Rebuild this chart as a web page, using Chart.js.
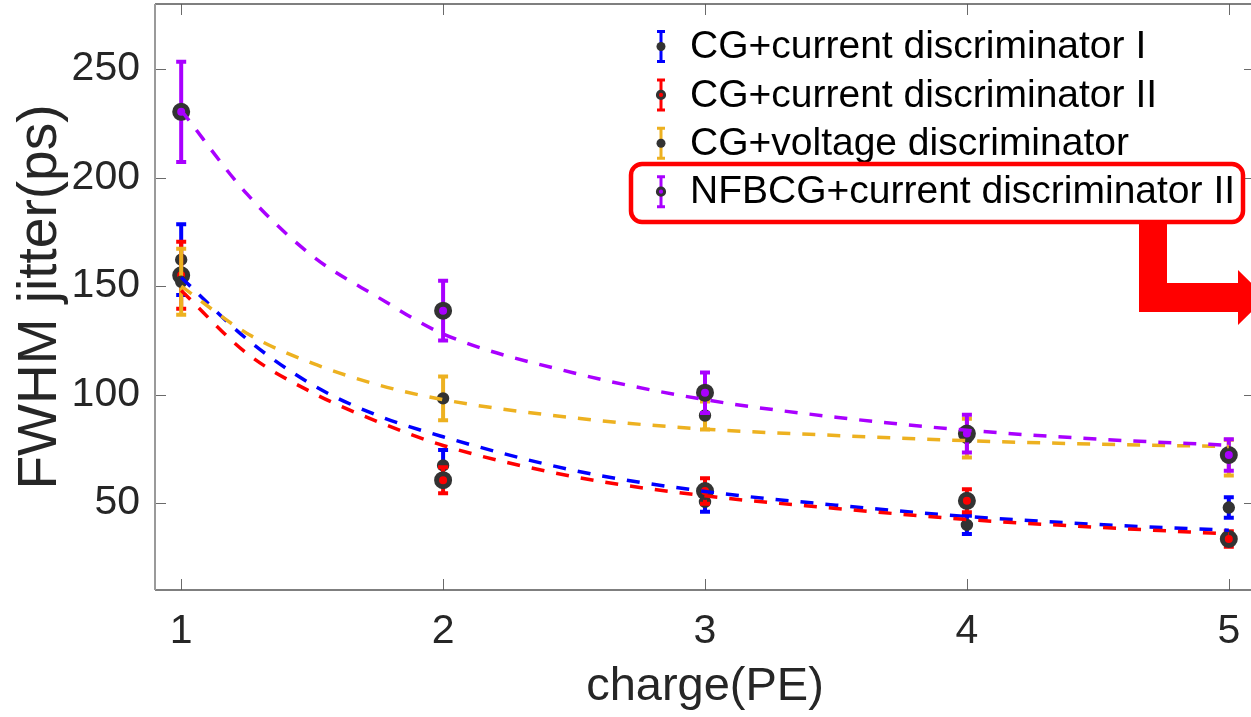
<!DOCTYPE html>
<html>
<head>
<meta charset="utf-8">
<script src="https://cdn.jsdelivr.net/npm/chart.js@4"></script>
<style>
  html, body { margin: 0; padding: 0; background: #ffffff; overflow: hidden; width: 1251px; height: 717px; }
  #wrap { position: absolute; left: 0; top: 0; width: 1270px; height: 717px; }
</style>
</head>
<body>
<div id="wrap"><canvas id="c" width="1270" height="717"></canvas></div>
<script>
// ---------------- data ----------------
const charges = [1, 2, 3, 4, 5];
const seriesNames = [
  'CG+current discriminator I',
  'CG+current discriminator II',
  'CG+voltage discriminator',
  'NFBCG+current discriminator II'
];
const currentIJitter   = [162.2, 67.4, 50.6, 40.0, 48.0];
const currentIErr      = [16.3, 7.1, 4.6, 4.2, 4.7];
const currentIIJitter  = [155.0, 60.6, 55.6, 51.1, 33.5];
const currentIIErr     = [15.4, 6.0, 5.9, 5.3, 3.6];
const voltageJitter    = [152.0, 98.3, 90.4, 80.0, 71.0];
const voltageErr       = [15.2, 10.1, 6.4, 8.9, 8.2];
const nfbcgJitter      = [230.3, 138.7, 100.9, 82.1, 72.2];
const nfbcgErr         = [23.1, 13.8, 9.3, 8.7, 7.3];

// fitted curves
const fitCharges    = [1, 1.25, 1.5, 1.75, 2, 2.5, 3, 3.5, 4, 4.5, 5];
const currentIFit   = [154, 125.7, 104.6, 90.4, 80.6, 65.1, 55.4, 49.1, 43.9, 40.2, 37.5];
const currentIIFit  = [148, 119.1, 101.0, 87.6, 76.6, 62.2, 53.4, 47.6, 42.5, 38.9, 35.8];
const voltageFit    = [150, 128.3, 114.5, 104.6, 97.7, 89.3, 84.1, 81.2, 78.8, 77.2, 76.1];
const nfbcgFit      = [231, 192.6, 164.0, 145.0, 128.0, 110.0, 97.7, 89.6, 83.6, 79.5, 76.7];

const xTickValues = [1, 2, 3, 4, 5];
const yTickValues = [50, 100, 150, 200, 250];
const xTitle = 'charge(PE)';
const yTitle = 'FWHM jitter(ps)';

// ---------------- style ----------------
const colors = ['#0000FF', '#FF0000', '#EDB120', '#A900FF'];
const markerDark = '#333333';
const FONT = '"Liberation Sans", Arial, Helvetica, sans-serif';

const toPts = (xs, ys) => xs.map((x, i) => ({ x: x, y: ys[i] }));

function markerSet(idx, ys, errs, ring, order) {
  return {
    label: seriesNames[idx],
    data: toPts(charges, ys),
    errors: errs,
    errColor: colors[idx],
    ring: ring,
    showLine: false,
    pointRadius: ring ? 6.5 : 5.2,
    pointBorderWidth: ring ? 5 : 2,
    pointBackgroundColor: ring ? colors[idx] : markerDark,
    pointBorderColor: markerDark,
    order: order
  };
}
function fitSet(idx, ys, order) {
  return {
    label: seriesNames[idx] + ' fit',
    data: toPts(fitCharges, ys),
    showLine: true,
    pointRadius: 0,
    borderColor: colors[idx],
    borderWidth: 3.5,
    borderDash: [13, 12],
    cubicInterpolationMode: 'monotone',
    fill: false,
    order: order
  };
}

const datasets = [
  markerSet(0, currentIJitter, currentIErr, false, 8),
  markerSet(1, currentIIJitter, currentIIErr, true, 7),
  markerSet(2, voltageJitter, voltageErr, false, 6),
  markerSet(3, nfbcgJitter, nfbcgErr, true, 5),
  fitSet(0, currentIFit, 4),
  fitSet(1, currentIIFit, 3),
  fitSet(2, voltageFit, 2),
  fitSet(3, nfbcgFit, 1)
];

// error bars drawn just before each marker dataset
const errorBarPlugin = {
  id: 'errorBars',
  beforeDatasetDraw(chart, args) {
    const ds = chart.data.datasets[args.index];
    if (!ds.errors) return;
    const xs = chart.scales.x, ys = chart.scales.y;
    const ctx = chart.ctx;
    ctx.save();
    ctx.strokeStyle = ds.errColor;
    ctx.lineWidth = 4;
    ctx.lineCap = 'butt';
    ds.data.forEach((p, i) => {
      const px = xs.getPixelForValue(p.x);
      const top = ys.getPixelForValue(p.y + ds.errors[i]);
      const bot = ys.getPixelForValue(p.y - ds.errors[i]);
      ctx.beginPath();
      ctx.moveTo(px, top); ctx.lineTo(px, bot);
      ctx.moveTo(px - 5, top); ctx.lineTo(px + 5, top);
      ctx.moveTo(px - 5, bot); ctx.lineTo(px + 5, bot);
      ctx.stroke();
    });
    ctx.restore();
  }
};

// axes box with inward ticks
const framePlugin = {
  id: 'frame',
  beforeDatasetsDraw(chart) {
    const { ctx, chartArea: a } = chart;
    const xs = chart.scales.x, ys = chart.scales.y;
    const tl = 11;
    ctx.save();
    ctx.strokeStyle = '#6a6a6a';
    ctx.lineWidth = 1;
    ctx.beginPath();
    xTickValues.forEach(v => {
      const px = Math.round(xs.getPixelForValue(v)) + 0.5;
      ctx.moveTo(px, a.bottom); ctx.lineTo(px, a.bottom - tl);
      ctx.moveTo(px, a.top); ctx.lineTo(px, a.top + tl);
    });
    yTickValues.forEach(v => {
      const py = Math.round(ys.getPixelForValue(v)) + 0.5;
      ctx.moveTo(a.left, py); ctx.lineTo(a.left + tl, py);
      ctx.moveTo(a.right, py); ctx.lineTo(a.right - tl, py);
    });
    ctx.stroke();
    ctx.strokeStyle = '#555555';
    ctx.lineWidth = 1.3;
    ctx.beginPath();
    ctx.moveTo(a.left, a.top); ctx.lineTo(a.right, a.top);
    ctx.moveTo(a.left, a.bottom); ctx.lineTo(a.right, a.bottom);
    ctx.moveTo(a.right, a.top); ctx.lineTo(a.right, a.bottom);
    ctx.stroke();
    ctx.strokeStyle = '#9a9a9a';
    ctx.lineWidth = 2;
    ctx.beginPath();
    ctx.moveTo(a.left, a.top); ctx.lineTo(a.left, a.bottom);
    ctx.stroke();
    ctx.restore();
  }
};

// legend + highlight annotation
const legendPlugin = {
  id: 'customLegend',
  afterDraw(chart) {
    const ctx = chart.ctx;
    const symX = 661, textX = 690, row0 = 46.5, rowGap = 48.4;
    ctx.save();
    ctx.font = '39px ' + FONT;
    ctx.textBaseline = 'middle';
    ctx.fillStyle = '#000000';
    [0, 1, 2, 3].forEach(i => {
      const cy = row0 + i * rowGap;
      const ds = chart.data.datasets[i];
      ctx.strokeStyle = colors[i];
      ctx.lineWidth = 3;
      ctx.beginPath();
      ctx.moveTo(symX, cy - 15); ctx.lineTo(symX, cy + 15);
      ctx.moveTo(symX - 4, cy - 15); ctx.lineTo(symX + 4, cy - 15);
      ctx.moveTo(symX - 4, cy + 15); ctx.lineTo(symX + 4, cy + 15);
      ctx.stroke();
      ctx.beginPath();
      if (ds.ring) {
        ctx.arc(symX, cy, 3.6, 0, Math.PI * 2);
        ctx.fillStyle = colors[i];
        ctx.fill();
        ctx.lineWidth = 3;
        ctx.strokeStyle = markerDark;
        ctx.stroke();
      } else {
        ctx.arc(symX, cy, 4.5, 0, Math.PI * 2);
        ctx.fillStyle = markerDark;
        ctx.fill();
      }
      ctx.fillStyle = '#000000';
      ctx.fillText(seriesNames[i], textX, cy + 1);
    });
    // highlight box around last legend entry
    ctx.strokeStyle = '#FF0000';
    ctx.lineWidth = 4.5;
    ctx.beginPath();
    ctx.roundRect(631, 164, 612, 58, 11);
    ctx.stroke();
    // L-shaped arrow
    ctx.fillStyle = '#FF0000';
    ctx.beginPath();
    ctx.moveTo(1139, 222);
    ctx.lineTo(1167, 222);
    ctx.lineTo(1167, 283);
    ctx.lineTo(1238, 283);
    ctx.lineTo(1238, 270);
    ctx.lineTo(1266, 297.5);
    ctx.lineTo(1238, 325);
    ctx.lineTo(1238, 312);
    ctx.lineTo(1139, 312);
    ctx.closePath();
    ctx.fill();
    ctx.restore();
  }
};

new Chart(document.getElementById('c'), {
  type: 'scatter',
  data: { datasets: datasets },
  options: {
    responsive: false,
    animation: false,
    devicePixelRatio: 1,
    events: [],
    layout: { autoPadding: false, padding: { top: 4, right: 15, left: 0, bottom: 0 } },
    plugins: { legend: { display: false }, tooltip: { enabled: false } },
    scales: {
      x: {
        type: 'linear',
        min: 0.9, max: 5.1,
        afterBuildTicks: s => { s.ticks = xTickValues.map(v => ({ value: v })); },
        afterFit: s => { s.height = 127; s.paddingLeft = 0; s.paddingRight = 0; s.paddingTop = 0; s.paddingBottom = 0; },
        grid: { display: false, drawTicks: false },
        border: { display: false },
        ticks: { font: { family: FONT, size: 41 }, color: '#262626', padding: 17, maxRotation: 0 },
        title: { display: true, text: xTitle, font: { family: FONT, size: 47 }, color: '#262626', padding: { top: 0, bottom: 2 } }
      },
      y: {
        type: 'linear',
        min: 10, max: 280,
        afterBuildTicks: s => { s.ticks = yTickValues.map(v => ({ value: v })); },
        afterFit: s => { s.width = 155; s.paddingLeft = 0; s.paddingRight = 0; s.paddingTop = 0; s.paddingBottom = 0; },
        grid: { display: false, drawTicks: false },
        border: { display: false },
        ticks: { font: { family: FONT, size: 41 }, color: '#262626', padding: 15 },
        title: { display: true, text: yTitle, font: { family: FONT, size: 55 }, color: '#262626', padding: { top: 8, bottom: 0 } }
      }
    }
  },
  plugins: [errorBarPlugin, framePlugin, legendPlugin]
});
</script>
</body>
</html>
